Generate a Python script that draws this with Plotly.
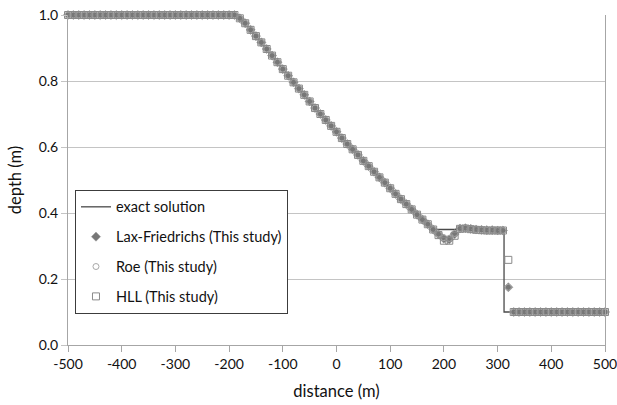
import plotly.graph_objects as go

# Cell centres (m), 10 m spacing
distance = list(range(-500, 501, 10))

# Lax-Friedrichs depth (m)
lax_friedrichs = ([1.0] * 32 + [
    0.990, 0.975, 0.955, 0.936, 0.917, 0.897, 0.877, 0.857, 0.836, 0.816,
    0.796, 0.777, 0.758, 0.738, 0.718, 0.700, 0.682, 0.664, 0.646, 0.627,
    0.609, 0.593, 0.576, 0.558, 0.542, 0.525, 0.508, 0.492, 0.475, 0.458,
    0.442, 0.427, 0.411, 0.395, 0.380, 0.366, 0.350, 0.335, 0.322, 0.320,
    0.336, 0.353, 0.354, 0.352, 0.350, 0.349, 0.348, 0.348, 0.347, 0.347,
    0.175,
] + [0.1] * 18)

# Roe depth (m)
roe = ([1.0] * 32 + [
    0.990, 0.975, 0.955, 0.936, 0.917, 0.897, 0.877, 0.857, 0.836, 0.816,
    0.796, 0.777, 0.758, 0.738, 0.718, 0.700, 0.682, 0.664, 0.646, 0.627,
    0.609, 0.593, 0.576, 0.558, 0.542, 0.525, 0.508, 0.492, 0.475, 0.458,
    0.442, 0.427, 0.411, 0.395, 0.380, 0.366, 0.350, 0.336, 0.325, 0.323,
    0.338, 0.353, 0.354, 0.352, 0.350, 0.349, 0.348, 0.348, 0.347, 0.347,
    0.175,
] + [0.1] * 18)

# HLL depth (m)
hll = ([1.0] * 32 + [
    0.990, 0.975, 0.955, 0.936, 0.917, 0.897, 0.877, 0.857, 0.836, 0.816,
    0.796, 0.777, 0.758, 0.738, 0.718, 0.700, 0.682, 0.664, 0.646, 0.627,
    0.609, 0.593, 0.576, 0.558, 0.542, 0.525, 0.508, 0.492, 0.475, 0.458,
    0.442, 0.427, 0.411, 0.395, 0.380, 0.366, 0.350, 0.333, 0.316, 0.316,
    0.331, 0.352, 0.353, 0.351, 0.349, 0.348, 0.347, 0.347, 0.347, 0.347,
    0.258,
] + [0.1] * 18)

# Exact dam-break solution
exact_x = [-500, -185, -160, -120, -80, -40, 0, 40, 80, 120, 160, 180, 312, 312, 500]
exact_h = [1.0, 1.0, 0.955, 0.877, 0.796, 0.718, 0.646, 0.576, 0.508, 0.442,
           0.380, 0.350, 0.350, 0.100, 0.100]

x_ticks = list(range(-500, 501, 100))
y_ticks = [0.0, 0.2, 0.4, 0.6, 0.8, 1.0]

FONT = "Lato"

fig = go.Figure()
fig.add_trace(go.Scatter(
    x=exact_x, y=exact_h, mode="lines", name="exact solution",
    line=dict(color="#4a4a4a", width=1.3), legendgroup="a",
    cliponaxis=False,
))
fig.add_trace(go.Scatter(
    x=distance, y=lax_friedrichs, mode="markers",
    name="Lax-Friedrichs (This study)", legendgroup="b",
    marker=dict(symbol="diamond", size=7, color="#777777",
                line=dict(color="#9a9a9a", width=0.6)),
    cliponaxis=False,
))
fig.add_trace(go.Scatter(
    x=distance, y=roe, mode="markers", name="Roe (This study)",
    legendgroup="c",
    marker=dict(symbol="circle-open", size=6, color="#a8a8a8",
                line=dict(width=1)),
    cliponaxis=False,
))
fig.add_trace(go.Scatter(
    x=distance, y=hll, mode="markers", name="HLL (This study)",
    legendgroup="d",
    marker=dict(symbol="square-open", size=7, color="#8a8a8a",
                line=dict(width=1)),
    cliponaxis=False,
))

fig.update_layout(
    width=617, height=405,
    margin=dict(l=68, r=12, t=15, b=60),
    paper_bgcolor="white", plot_bgcolor="white",
    font=dict(family=FONT, size=14, color="#111111"),
    showlegend=True,
    legend=dict(
        x=0.013, y=0.47, xanchor="left", yanchor="top",
        bgcolor="white", bordercolor="#3c3c3c", borderwidth=1,
        font=dict(family=FONT, size=14.5, color="#111111"),
        tracegroupgap=8, itemwidth=30,
    ),
    xaxis=dict(
        range=[-500, 500], tickvals=x_ticks, ticktext=[str(v) for v in x_ticks],
        showgrid=False, zeroline=False, automargin=False,
        ticklabeloverflow="allow",
        showline=True, linecolor="#a6a6a6", linewidth=1,
        ticks="outside", ticklen=6, tickcolor="#a6a6a6",
        title=dict(text="distance (m)", font=dict(size=16.5), standoff=14),
        tickfont=dict(size=14),
    ),
    yaxis=dict(
        range=[0, 1], tickvals=y_ticks, ticktext=[f"{v:.1f}" for v in y_ticks],
        showgrid=True, gridcolor="#c4c4c4", gridwidth=1, zeroline=False,
        automargin=False, ticklabeloverflow="allow",
        showline=True, linecolor="#a6a6a6", linewidth=1, mirror=True,
        ticks="outside", ticklen=6, tickcolor="#c4c4c4",
        title=dict(text="depth (m)", font=dict(size=16.5), standoff=12),
        tickfont=dict(size=14),
    ),
)

fig.write_html("out.html")
